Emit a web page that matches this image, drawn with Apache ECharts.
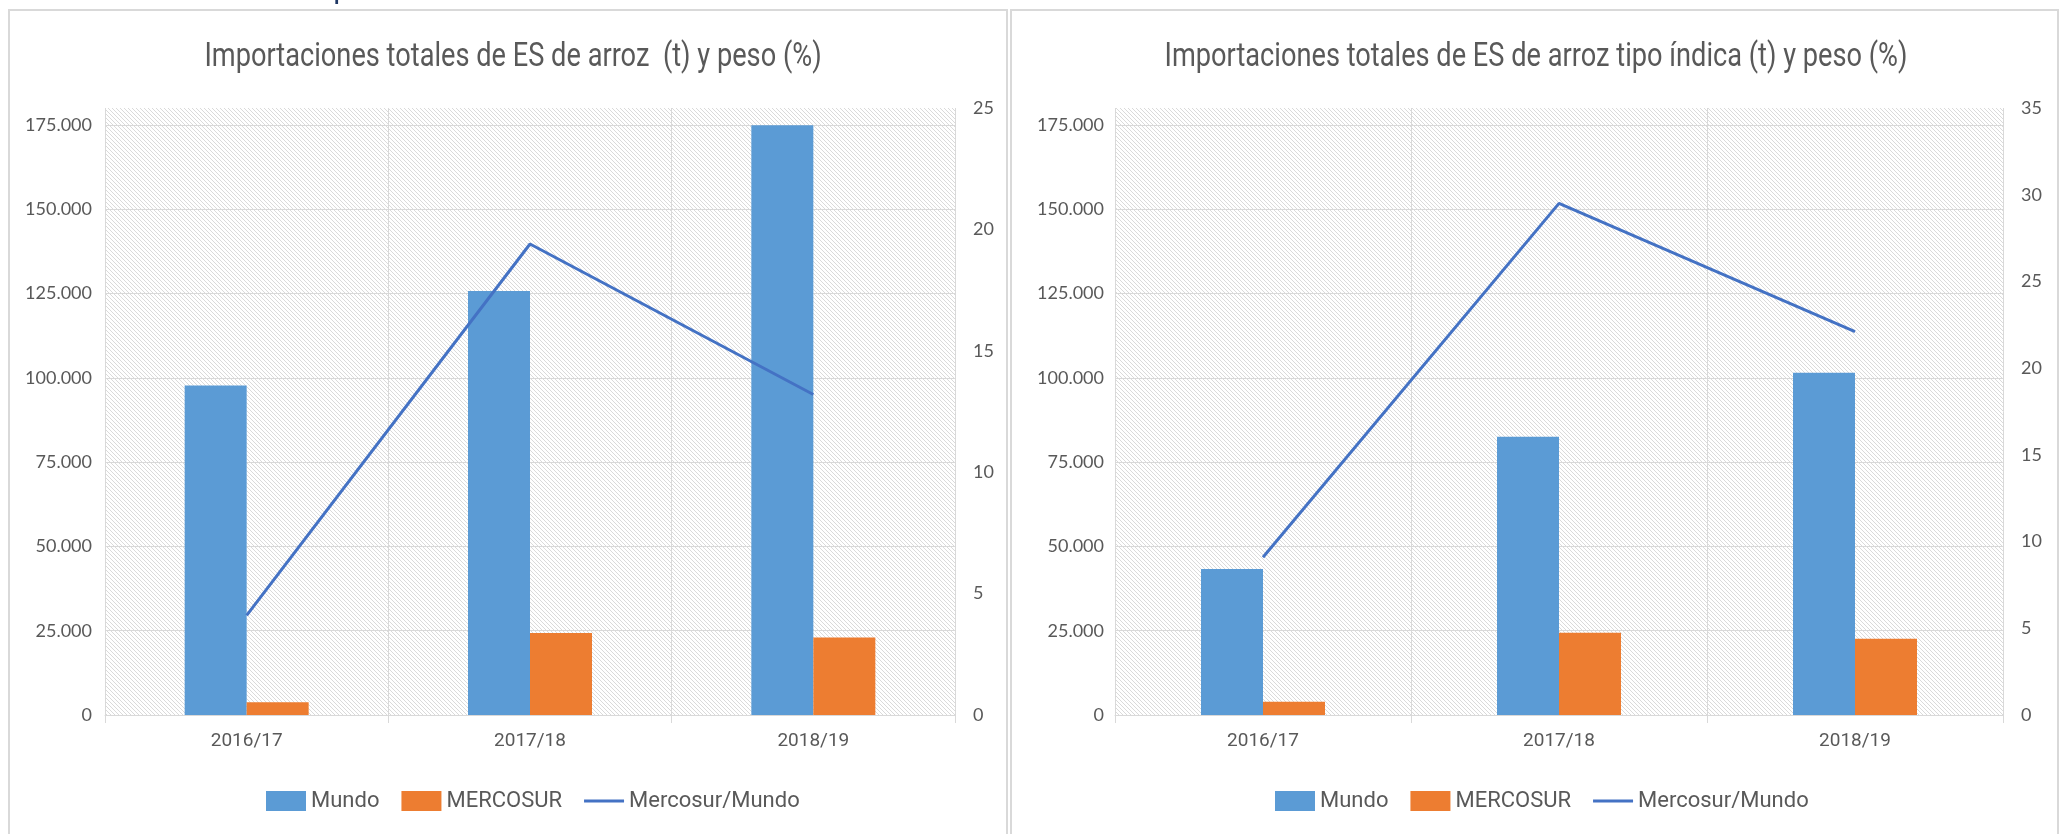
<!DOCTYPE html>
<html>
<head>
<meta charset="utf-8">
<title>Importaciones de arroz</title>
<script src="https://cdn.jsdelivr.net/npm/echarts@6/dist/echarts.min.js"></script>
<style>
  html, body { margin: 0; padding: 0; background: #fff; }
  #chart { width: 2065px; height: 834px; }
</style>
</head>
<body>
<div id="chart"></div>
<script>
// campañas
const campanas = ['2016/17', '2017/18', '2018/19']
// arroz total (t)
const mundoTotal = [97700, 125700, 174900]
const mercosurTotal = [3800, 24300, 23000]
const pesoTotal = [4.1, 19.4, 13.2]
// arroz tipo índica (t)
const mundoIndica = [43300, 82500, 101500]
const mercosurIndica = [3900, 24400, 22600]
const pesoIndica = [9.1, 29.5, 22.1]

const titulos = [
  'Importaciones totales de ES de arroz  (t) y peso (%)',
  'Importaciones totales de ES de arroz tipo índica (t) y peso (%)'
]
const nombres = ['Mundo', 'MERCOSUR', 'Mercosur/Mundo']
const colores = ['#5b9bd5', '#ed7d31', '#4472c4']

const gris = '#595959'
const textFont = "Roboto, 'Noto Sans', sans-serif"
const labelFont = "Lato, 'Open Sans', sans-serif"

// trama diagonal del fondo
function makeHatch() {
  const c = document.createElement('canvas')
  c.width = 8
  c.height = 8
  const ctx = c.getContext('2d')
  ctx.fillStyle = '#ffffff'
  ctx.fillRect(0, 0, 8, 8)
  ctx.fillStyle = '#dadada'
  for (let y = 0; y < 8; y++) {
    for (let x = 0; x < 8; x++) {
      if ((x - y + 8) % 4 === 0) ctx.fillRect(x, y, 1, 1)
    }
  }
  return c
}
const hatch = { image: makeHatch(), repeat: 'repeat' }

function miles(v) {
  return String(v).replace(/\B(?=(\d{3})+(?!\d))/g, '.')
}

const grids = [
  { left: 105, right: 1110, top: 108, height: 607 },
  { left: 1115, right: 62, top: 108, height: 607 }
]

function xAxisFor(i) {
  return {
    type: 'category',
    gridIndex: i,
    data: campanas,
    axisLine: { lineStyle: { color: '#d9d9d9', width: 1 } },
    axisTick: { show: true, length: 8, lineStyle: { color: '#d9d9d9' } },
    splitLine: { show: true, lineStyle: { color: '#d9d9d9', width: 1 } },
    axisLabel: { color: gris, fontFamily: textFont, fontSize: 19, margin: 17 }
  }
}

function leftAxisFor(i, labelMargin) {
  return {
    type: 'value',
    gridIndex: i,
    min: 0,
    max: 180000,
    interval: 25000,
    axisLine: { show: false },
    axisTick: { show: false },
    splitLine: { show: true, showMaxLine: false, lineStyle: { color: '#d9d9d9', width: 1 } },
    axisLabel: {
      color: gris, fontFamily: labelFont, fontSize: 18, margin: labelMargin,
      showMaxLabel: false, formatter: miles
    }
  }
}

function rightAxisFor(i, max) {
  return {
    type: 'value',
    gridIndex: i,
    position: 'right',
    min: 0,
    max: max,
    interval: 5,
    axisLine: { show: false },
    axisTick: { show: false },
    splitLine: { show: false },
    axisLabel: { color: gris, fontFamily: labelFont, fontSize: 18, margin: 18 }
  }
}

function seriesFor(i, mundo, mercosur, peso) {
  return [
    {
      name: nombres[0], type: 'bar', xAxisIndex: i, yAxisIndex: i * 2,
      data: mundo, barWidth: 62, barGap: '0%',
      itemStyle: { color: colores[0] }
    },
    {
      name: nombres[1], type: 'bar', xAxisIndex: i, yAxisIndex: i * 2,
      data: mercosur, barWidth: 62, barGap: '0%',
      itemStyle: { color: colores[1] }
    },
    {
      name: nombres[2], type: 'line', xAxisIndex: i, yAxisIndex: i * 2 + 1,
      data: peso, symbol: 'none', z: 5,
      lineStyle: { color: colores[2], width: 3 },
      itemStyle: { color: colores[2] }
    }
  ]
}

const lineIcon = 'path://M0,0 L40,0 L40,3 L0,3 Z'
function legendFor(left) {
  return {
    left: left,
    top: 785,
    itemWidth: 40,
    itemHeight: 20,
    itemGap: 22,
    symbolKeepAspect: true,
    textStyle: { color: gris, fontFamily: textFont, fontSize: 22 },
    data: [
      { name: nombres[0], icon: 'rect' },
      { name: nombres[1], icon: 'rect' },
      { name: nombres[2], icon: lineIcon }
    ]
  }
}

function titleText(text, cx) {
  return {
    type: 'text', x: cx, y: 57, scaleX: 0.8, silent: true,
    style: {
      text: text, fill: gris, font: 'normal 34px ' + textFont,
      align: 'center', verticalAlign: 'middle'
    }
  }
}

const chart = echarts.init(document.getElementById('chart'))

const option = {
  animation: false,
  backgroundColor: '#fff',
  legend: [legendFor(261), legendFor(1270)],
  grid: grids.map(g => Object.assign({ show: true, backgroundColor: hatch, borderWidth: 0 }, g)),
  xAxis: [xAxisFor(0), xAxisFor(1)],
  yAxis: [leftAxisFor(0, 13), rightAxisFor(0, 25), leftAxisFor(1, 11), rightAxisFor(1, 35)],
  series: seriesFor(0, mundoTotal, mercosurTotal, pesoTotal)
    .concat(seriesFor(1, mundoIndica, mercosurIndica, pesoIndica)),
  graphic: [
    { type: 'rect', shape: { x: 9, y: 10, width: 998, height: 840 }, style: { fill: 'none', stroke: '#d9d9d9', lineWidth: 2 }, silent: true },
    { type: 'rect', shape: { x: 1011, y: 10, width: 1047, height: 840 }, style: { fill: 'none', stroke: '#d9d9d9', lineWidth: 2 }, silent: true },
    { type: 'text', x: 334, y: -18, style: { text: 'p', fill: '#1f3864', font: 'bold 22px Lato, sans-serif' }, silent: true },
    titleText(titulos[0], 513),
    titleText(titulos[1], 1536)
  ]
}

chart.setOption(option)
</script>
</body>
</html>
